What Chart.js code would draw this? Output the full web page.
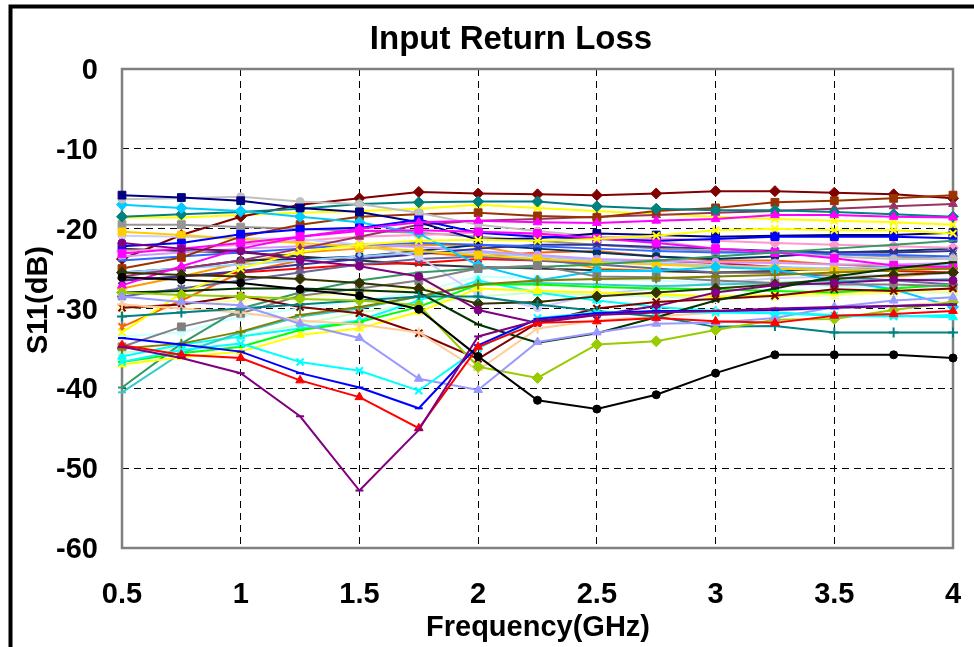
<!DOCTYPE html>
<html>
<head>
<meta charset="utf-8">
<script src="https://cdn.jsdelivr.net/npm/chart.js@4.4.1/dist/chart.umd.min.js"></script>
<style>
  html, body { margin: 0; padding: 0; background: #fff; }
  #wrap { width: 974px; height: 647px; }
</style>
</head>
<body>
<div id="wrap"><canvas id="s11Chart" width="974" height="647"></canvas></div>
<script>
// frequency points (GHz)
const freq = [0.5, 0.75, 1, 1.25, 1.5, 1.75, 2, 2.25, 2.5, 2.75, 3, 3.25, 3.5, 3.75, 4];
const yTicks = [0, -10, -20, -30, -40, -50, -60];

// S11 (dB) per device
const dev01 = [-26.1, -26.4, -26.8, -27.6, -28.4, -30.1, -36.0, -41.5, -42.6, -40.8, -38.1, -35.8, -35.8, -35.8, -36.2];
const dev02 = [-34.8, -36.2, -38.1, -43.5, -52.8, -45.2, -33.5, -31.5, -30.8, -30.5, -30.3, -30.0, -29.8, -29.7, -29.5];
const dev03 = [-34.6, -35.8, -36.2, -39.0, -41.1, -45.0, -34.8, -31.8, -31.6, -31.2, -31.6, -31.8, -30.9, -30.7, -30.3];
const dev04 = [-33.7, -34.5, -35.4, -38.1, -39.9, -42.5, -34.6, -31.3, -30.6, -30.3, -30.3, -30.2, -29.9, -29.7, -29.5];
const dev05 = [-36.7, -35.2, -34.4, -36.7, -37.8, -40.3, -35.0, -31.2, -30.5, -30.4, -30.5, -30.6, -30.9, -31.0, -30.8];
const dev06 = [-28.5, -29.2, -29.6, -31.9, -33.7, -38.8, -40.2, -34.2, -33.0, -31.9, -31.8, -31.2, -29.8, -29.0, -28.6];
const dev07 = [-28.0, -28.3, -28.5, -28.8, -29.0, -29.6, -37.3, -38.7, -34.5, -34.1, -32.7, -31.4, -31.3, -30.2, -29.2];
const dev08 = [-31.0, -30.5, -30.0, -29.5, -29.0, -28.5, -28.5, -29.5, -30.3, -31.0, -32.3, -32.2, -33.0, -33.0, -33.0];
const dev09 = [-28.0, -27.8, -27.5, -27.5, -27.7, -28.0, -32.0, -34.3, -33.1, -31.1, -29.0, -27.5, -26.0, -25.0, -24.2];
const dev10 = [-29.5, -30.0, -30.5, -31.5, -32.0, -33.0, -37.7, -32.5, -31.5, -31.0, -30.5, -30.3, -30.0, -29.7, -29.2];
const dev11 = [-29.9, -29.5, -28.4, -29.8, -30.6, -33.1, -36.3, -31.8, -30.0, -29.2, -28.8, -28.4, -27.6, -27.8, -27.5];
const dev12 = [-21.8, -22.5, -22.8, -23.9, -24.7, -26.0, -30.2, -31.8, -30.8, -29.7, -28.0, -27.1, -26.8, -26.4, -26.5];
const dev13 = [-25.5, -25.8, -26.0, -26.3, -26.8, -27.5, -29.4, -29.2, -28.5, -28.0, -27.5, -27.0, -26.3, -25.8, -25.5];
const dev14 = [-35.0, -34.4, -32.9, -30.8, -29.8, -28.5, -27.0, -26.5, -26.3, -26.2, -26.0, -25.8, -25.5, -25.2, -25.0];
const dev15 = [-34.8, -32.3, -30.6, -28.4, -27.5, -26.5, -25.0, -24.6, -26.0, -26.1, -26.5, -26.8, -27.0, -27.0, -27.2];
const dev16 = [-36.7, -35.6, -34.8, -32.7, -31.7, -29.8, -27.0, -27.0, -27.3, -27.5, -27.6, -27.8, -28.0, -27.5, -27.0];
const dev17 = [-37.0, -36.1, -35.4, -33.3, -32.5, -30.4, -27.5, -27.8, -28.0, -28.2, -28.5, -28.3, -28.0, -27.8, -27.5];
const dev18 = [-33.0, -28.1, -25.0, -22.9, -22.0, -21.5, -21.4, -21.5, -21.3, -20.9, -20.2, -20.0, -20.2, -20.2, -20.6];
const dev19 = [-39.9, -34.4, -30.0, -28.0, -26.5, -25.5, -25.0, -24.8, -24.5, -24.0, -23.5, -23.0, -22.5, -22.0, -21.5];
const dev20 = [-40.5, -35.6, -33.0, -31.0, -30.0, -28.5, -27.0, -26.8, -27.0, -27.2, -27.0, -26.8, -26.5, -26.5, -26.3];
const dev21 = [-27.1, -24.7, -22.5, -21.0, -20.0, -19.2, -19.0, -19.2, -19.3, -19.0, -18.8, -18.3, -18.3, -18.5, -18.6];
const dev22 = [-23.1, -22.5, -21.8, -21.0, -20.3, -20.2, -20.4, -20.6, -21.2, -21.8, -22.5, -23.0, -23.7, -24.6, -24.8];
const dev23 = [-22.2, -21.8, -20.7, -20.1, -19.9, -18.9, -20.5, -21.0, -21.3, -21.5, -21.3, -21.0, -21.0, -21.0, -21.2];
const dev24 = [-15.8, -16.1, -16.5, -17.4, -17.9, -19.2, -21.4, -21.2, -20.6, -20.8, -21.0, -20.9, -20.8, -20.8, -20.5];
const dev25 = [-16.3, -16.2, -16.0, -16.6, -16.9, -18.0, -19.5, -20.3, -21.0, -21.5, -22.5, -23.0, -23.5, -23.8, -23.8];
const dev26 = [-17.0, -17.4, -17.8, -18.5, -19.2, -20.6, -24.6, -26.5, -25.3, -25.3, -24.8, -25.1, -26.5, -27.6, -29.8];
const dev27 = [-18.5, -18.2, -17.9, -17.5, -16.9, -16.7, -16.6, -16.6, -17.2, -17.5, -17.7, -17.7, -17.9, -18.2, -18.5];
const dev28 = [-25.0, -23.6, -21.0, -19.5, -18.5, -18.2, -18.0, -18.4, -18.6, -17.8, -17.4, -16.7, -16.5, -16.2, -15.8];
const dev29 = [-26.0, -25.0, -24.0, -22.5, -21.0, -19.5, -19.0, -18.8, -18.5, -18.3, -18.0, -17.8, -17.5, -17.2, -16.9];
const dev30 = [-20.4, -20.8, -21.3, -21.8, -22.3, -22.8, -23.3, -23.8, -24.2, -24.5, -24.8, -25.0, -25.2, -25.2, -25.0];
const dev31 = [-20.9, -21.0, -21.2, -21.3, -22.0, -23.5, -28.3, -29.9, -28.2, -27.5, -26.8, -26.2, -26.0, -25.8, -25.6];
const dev32 = [-36.0, -34.5, -33.5, -32.5, -31.5, -29.0, -26.5, -28.0, -29.0, -29.8, -30.3, -30.5, -30.8, -30.9, -31.1];
const dev33 = [-24.0, -23.5, -23.0, -22.5, -22.0, -21.8, -22.0, -22.2, -22.5, -22.8, -23.0, -23.0, -23.2, -23.3, -23.5];
const dev34 = [-26.5, -26.0, -25.3, -24.5, -23.8, -23.2, -22.5, -22.0, -22.0, -22.3, -22.5, -22.8, -23.0, -23.0, -22.8];
const dev35 = [-28.5, -27.5, -26.5, -25.5, -24.5, -23.8, -23.5, -24.0, -24.5, -25.0, -25.5, -25.5, -26.0, -26.5, -27.0];
const dev36 = [-22.8, -22.5, -22.0, -21.5, -21.0, -20.8, -20.5, -20.8, -21.0, -21.2, -21.5, -21.8, -22.0, -22.2, -22.4];
const dev37 = [-23.5, -23.0, -22.5, -22.2, -22.0, -22.3, -22.8, -23.3, -23.8, -24.0, -24.2, -24.3, -24.5, -24.5, -24.3];
const dev38 = [-25.5, -25.0, -24.5, -24.0, -23.5, -23.0, -23.0, -23.5, -24.0, -24.3, -24.6, -24.8, -25.0, -24.8, -24.5];
const dev39 = [-26.5, -26.0, -25.5, -25.0, -24.5, -24.3, -23.8, -24.0, -24.2, -24.0, -24.3, -24.8, -25.2, -25.3, -25.5];
const dev40 = [-25.5, -25.0, -24.0, -23.8, -23.5, -22.8, -22.0, -22.5, -23.0, -23.5, -23.8, -23.5, -23.0, -22.8, -22.5];
const dev41 = [-22.5, -22.8, -23.0, -23.5, -24.0, -24.5, -24.8, -25.0, -25.2, -25.3, -25.5, -25.3, -25.0, -24.8, -24.5];
const dev42 = [-19.5, -19.5, -19.8, -20.0, -20.3, -20.5, -21.0, -21.5, -22.0, -22.5, -22.8, -23.0, -23.2, -23.5, -23.8];
const dev43 = [-30.0, -29.5, -29.0, -28.5, -28.0, -27.5, -27.5, -27.8, -28.0, -28.2, -28.5, -28.5, -28.3, -28.0, -27.8];
const dev44 = [-35.5, -35.0, -33.5, -32.0, -30.5, -29.5, -28.5, -28.0, -28.3, -28.5, -28.8, -28.5, -28.3, -28.0, -28.0];
const dev45 = [-33.5, -33.0, -31.0, -30.0, -29.0, -28.0, -26.0, -26.2, -26.4, -26.5, -26.8, -27.0, -27.2, -27.3, -27.5];
const dev46 = [-23.8, -20.8, -18.5, -17.0, -16.2, -15.4, -15.6, -15.7, -15.8, -15.6, -15.3, -15.3, -15.5, -15.7, -16.2];
const dev47 = [-32.3, -29.0, -25.5, -24.0, -23.5, -23.0, -23.5, -23.0, -22.8, -23.5, -24.0, -24.0, -24.5, -24.8, -25.0];
const dev48 = [-27.5, -26.0, -24.3, -23.0, -22.5, -22.0, -22.2, -23.5, -25.0, -25.3, -25.5, -25.6, -25.8, -26.0, -25.5];
const dev49 = [-18.6, -18.6, -18.3, -18.0, -17.8, -17.5, -17.0, -17.4, -17.8, -18.2, -18.5, -18.8, -19.0, -19.2, -19.5];

// line colour and marker per device (Excel style)
const seriesList = [
    [dev01, '#000000', 'circle'],   [dev02, '#800080', 'line'],
    [dev03, '#FF0000', 'triangle'], [dev04, '#0000FF', 'line'],
    [dev05, '#00FFFF', 'crossRot'], [dev06, '#9999FF', 'triangle'],
    [dev07, '#99CC00', 'rectRot'],  [dev08, '#008080', 'cross'],
    [dev09, '#003300', 'line'],     [dev10, '#FFCC99', 'cross'],
    [dev11, '#800000', 'crossRot'], [dev12, '#800080', 'circle'],
    [dev13, '#333300', 'rectRot'],  [dev14, '#808000', 'cross'],
    [dev15, '#808080', 'rect'],     [dev16, '#00FF00', 'line'],
    [dev17, '#FFFF00', 'triangle'], [dev18, '#FFFF00', 'crossRot'],
    [dev19, '#339966', 'line'],     [dev20, '#33CCCC', 'line'],
    [dev21, '#FF00FF', 'triangle'], [dev22, '#FF00FF', 'rect'],
    [dev23, '#0000FF', 'rect'],     [dev24, '#000080', 'rect'],
    [dev25, '#C0C0C0', 'circle'],   [dev26, '#00CCFF', 'rectRot'],
    [dev27, '#008080', 'rectRot'],  [dev28, '#993300', 'rect'],
    [dev29, '#993366', 'triangle'], [dev30, '#FFCC00', 'rect'],
    [dev31, '#CCCCFF', 'circle'],   [dev32, '#00FFFF', 'triangle'],
    [dev33, '#3366FF', 'line'],     [dev34, '#333399', 'crossRot'],
    [dev35, '#666699', 'star'],     [dev36, '#FF99CC', 'rectRot'],
    [dev37, '#CC99FF', 'circle'],   [dev38, '#99CCFF', 'triangle'],
    [dev39, '#FF0000', 'crossRot'], [dev40, '#003366', 'circle'],
    [dev41, '#333333', 'line'],     [dev42, '#969696', 'rect'],
    [dev43, '#FFFF99', 'star'],     [dev44, '#CCFFCC', 'rect'],
    [dev45, '#CCFFFF', 'star'],     [dev46, '#800000', 'rectRot'],
    [dev47, '#FF6600', 'crossRot'], [dev48, '#FF9900', 'star'],
    [dev49, '#FFFF00', 'crossRot']
];

const markerRadius = {circle: 4, rect: 5.5, rectRot: 5.5, triangle: 5, crossRot: 5, cross: 5, star: 5, line: 4};
const strokedMarkers = ['crossRot', 'cross', 'star', 'line'];

const datasets = seriesList.map(function (s, i) {
    return {
        label: 'Device ' + (i + 1),
        data: s[0].map(function (v, k) { return {x: freq[k], y: v}; }),
        borderColor: s[1],
        backgroundColor: s[1],
        pointBackgroundColor: s[1],
        pointBorderColor: s[1],
        pointStyle: s[2],
        pointRadius: markerRadius[s[2]],
        pointBorderWidth: strokedMarkers.indexOf(s[2]) >= 0 ? 2 : 1,
        borderWidth: 2,
        tension: 0,
        fill: false,
        clip: false
    };
});

const boldFont = '"Liberation Sans", Arial, sans-serif';

// frame, plot border and titles
const decoration = {
    id: 'decoration',
    beforeDraw(chart) {
        const ctx = chart.ctx;
        ctx.save();
        ctx.fillStyle = '#fff';
        ctx.fillRect(0, 0, chart.width, chart.height);
        ctx.strokeStyle = '#000';
        ctx.lineWidth = 4;
        ctx.strokeRect(10.5, 6.5, 1000, 700);
        ctx.restore();
    },
    beforeDatasetsDraw(chart) {
        const ctx = chart.ctx, a = chart.chartArea;
        ctx.save();
        ctx.strokeStyle = '#808080';
        ctx.lineWidth = 2.5;
        ctx.strokeRect(a.left, a.top, a.right - a.left, a.bottom - a.top);
        ctx.restore();
    },
    afterDraw(chart) {
        const ctx = chart.ctx;
        ctx.save();
        ctx.fillStyle = '#000';
        ctx.textAlign = 'center';
        ctx.textBaseline = 'alphabetic';
        ctx.font = 'bold 33px ' + boldFont;
        ctx.fillText('Input Return Loss', 511, 49);
        ctx.font = 'bold 29px ' + boldFont;
        ctx.fillText('Frequency(GHz)', 538, 636);
        ctx.translate(47, 300);
        ctx.rotate(-Math.PI / 2);
        ctx.fillText('S11(dB)', 0, 0);
        ctx.restore();
    }
};

const gridStyle = {
    color: function (c) { return (c.tick && (c.index === 0 || c.index === c.chart.scales[c.scale.id].ticks.length - 1)) ? 'rgba(0,0,0,0)' : '#000'; },
    lineWidth: 1,
    drawTicks: false
};

const config = {
    type: 'line',
    data: {datasets: datasets},
    options: {
        responsive: false,
        animation: false,
        layout: {padding: {left: 0, top: 69, right: 21, bottom: 0}},
        plugins: {
            legend: {display: false},
            title: {display: false},
            tooltip: {enabled: false}
        },
        scales: {
            x: {
                type: 'linear',
                min: 0.5,
                max: 4,
                border: {display: false, dash: [7, 5]},
                grid: gridStyle,
                ticks: {
                    stepSize: 0.5,
                    padding: 30,
                    maxRotation: 0,
                    color: '#000',
                    font: {family: boldFont, size: 29, weight: 'bold'},
                    callback: function (v) { return String(v); }
                },
                afterFit: function (scale) {
                    scale.height = 99;
                    scale.paddingLeft = 0;
                    scale.paddingRight = 0;
                }
            },
            y: {
                min: -60,
                max: 0,
                border: {display: false, dash: [7, 5]},
                grid: gridStyle,
                ticks: {
                    stepSize: 10,
                    padding: 24,
                    labelOffset: 2,
                    color: '#000',
                    font: {family: boldFont, size: 29, weight: 'bold'},
                    callback: function (v) { return yTicks.indexOf(v) >= 0 ? String(v) : ''; }
                },
                afterFit: function (scale) {
                    scale.width = 122;
                    scale.paddingTop = 0;
                    scale.paddingBottom = 0;
                }
            }
        }
    },
    plugins: [decoration]
};

window.chart = new Chart(document.getElementById('s11Chart').getContext('2d'), config);
</script>
</body>
</html>
